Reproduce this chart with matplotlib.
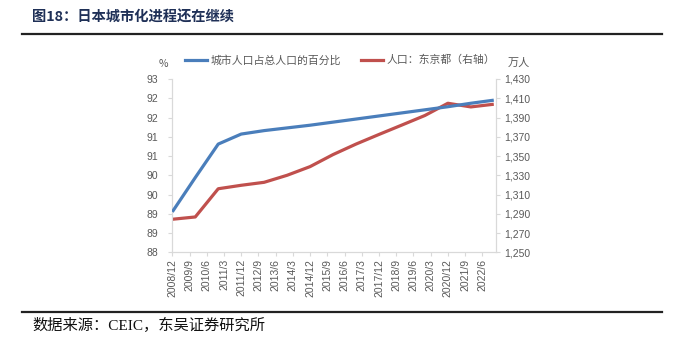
import matplotlib
matplotlib.use("Agg")
import matplotlib.pyplot as plt
from matplotlib.lines import Line2D
import numpy as np

plt.rcParams['font.family'] = ['Noto Sans CJK SC', 'DejaVu Sans']

# Annual observations (December of each year), 2008-2022
years = list(range(2008, 2023))
urban_share = [89.05, 89.94, 90.81, 91.07, 91.16, 91.23, 91.30, 91.38,
               91.46, 91.54, 91.62, 91.70, 91.78, 91.87, 91.95]          # %
tokyo_pop = [1284.3, 1286.7, 1316.0, 1319.6, 1322.7, 1330.0, 1339.0, 1351.5,
             1362.4, 1372.4, 1382.2, 1392.1, 1404.8, 1401.0, 1403.8]     # 万人

# x tick labels every 9 months from 2008/12
xtick_labels = ['2008/12', '2009/9', '2010/6', '2011/3', '2011/12', '2012/9',
                '2013/6', '2014/3', '2014/12', '2015/9', '2016/6', '2017/3',
                '2017/12', '2018/9', '2019/6', '2020/3', '2020/12', '2021/9',
                '2022/6']
left_ticks = [88.0, 88.5, 89.0, 89.5, 90.0, 90.5, 91.0, 91.5, 92.0, 92.5]
left_tick_labels = ['88', '89', '89', '90', '90', '91', '91', '92', '92', '93']
right_ticks = list(range(1250, 1431, 20))

legend_labels = ['城市人口占总人口的百分比', '人口：东京都（右轴）']

BLUE = '#4a7ebb'
RED = '#c0504d'
GRID = '#d9d9d9'
TXT = '#595959'

W, H = 682, 338
fig = plt.figure(figsize=(W / 100, H / 100), dpi=100)

# plot area in pixel coordinates
x0, x1, y_top, y_bot = 172.3, 495.7, 79.0, 252.3
ax = fig.add_axes([x0 / W, 1 - y_bot / H, (x1 - x0) / W, (y_bot - y_top) / H])
ax2 = ax.twinx()

def month_index(y):
    return (y - 2008) * 12

xs = [month_index(y) for y in years]
ax.plot(xs, urban_share, color=BLUE, lw=2.3, solid_capstyle='butt', zorder=3)
ax2.plot(xs, tokyo_pop, color=RED, lw=2.3, solid_capstyle='butt', zorder=3)
ax.set_zorder(ax2.get_zorder() + 1)
ax.patch.set_visible(False)

ax.set_xlim(0, 169)
ax.set_ylim(88, 92.5)
ax2.set_ylim(1250, 1430)

num_font = ['Liberation Sans', 'DejaVu Sans']
ax.set_xticks(np.arange(len(xtick_labels)) * 9)
ax.set_xticklabels(xtick_labels, rotation=90, fontsize=7.5, color=TXT,
                   family=num_font)
ax.set_yticks(left_ticks)
ax.set_yticklabels(left_tick_labels, fontsize=7.5, color=TXT, family=num_font)
ax2.set_yticks(right_ticks)
ax2.set_yticklabels([f'{v:,}' for v in right_ticks], fontsize=7.5, color=TXT,
                    family=num_font)

for a in (ax, ax2):
    a.spines['top'].set_visible(False)
    for s in ('left', 'right', 'bottom'):
        a.spines[s].set_color(GRID)
        a.spines[s].set_linewidth(0.8)
ax.tick_params(axis='both', length=3, width=0.8, color=GRID, pad=2)
ax2.tick_params(axis='y', length=3, width=0.8, color=GRID, pad=3)
ax.tick_params(axis='y', pad=7)

# axis unit labels
fig.text(163 / W, 1 - 64 / H, '%', fontsize=7.5, color=TXT, ha='center', va='center')
fig.text(519 / W, 1 - 63 / H, '万人', fontsize=8, color=TXT, ha='center', va='center')

# legend
handles = [Line2D([], [], color=BLUE, lw=2.3), Line2D([], [], color=RED, lw=2.3)]
fig.legend(handles, legend_labels, ncol=2, loc='center',
           bbox_to_anchor=(340 / W, 1 - 60 / H), frameon=False,
           fontsize=7.8, labelcolor=TXT, handlelength=2.1, handletextpad=0.3,
           columnspacing=1.8, borderpad=0, borderaxespad=0)

# header and footer
fig.text(32 / W, 1 - 17.5 / H, '图18：日本城市化进程还在继续', fontsize=10.3,
         fontweight='bold', color='#1f3057', ha='left', va='center')
fig.add_artist(Line2D([22 / W, 662 / W], [1 - 33.5 / H, 1 - 33.5 / H],
                      color='#222222', lw=1.6, transform=fig.transFigure))
fig.add_artist(Line2D([22 / W, 662 / W], [1 - 312 / H, 1 - 312 / H],
                      color='#222222', lw=1.6, transform=fig.transFigure))
fig.text(32 / W, 1 - 325.5 / H, '数据来源：CEIC，东吴证券研究所', fontsize=11,
         color='#111111', ha='left', va='center',
         family=['Liberation Serif', 'Noto Sans CJK SC'])

fig.savefig('out.png', dpi=100)
